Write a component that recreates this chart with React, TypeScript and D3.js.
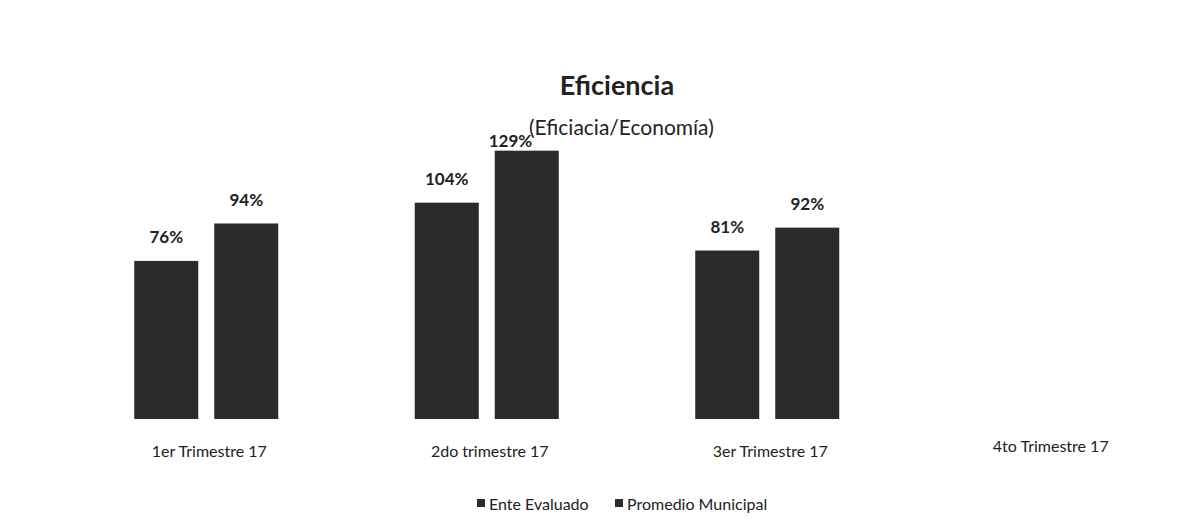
import React from "react";
import * as d3 from "d3";

const categories = ["1er Trimestre 17", "2do trimestre 17", "3er Trimestre 17", "4to Trimestre 17"];
const seriesNames = ["Ente Evaluado", "Promedio Municipal"];
const enteEvaluado: (number | null)[] = [76, 104, 81, null];
const promedioMunicipal: (number | null)[] = [94, 129, 92, null];
const seriesValues = [enteEvaluado, promedioMunicipal];
const seriesColors = ["#2a2a2a", "#2b2b2b"];

const W = 1191;
const H = 529;

export default function App() {
  const x0 = d3.scaleBand<string>().domain(categories).range([66, 1188]).padding(0);
  const groupW = 144;
  const x1 = d3.scaleBand<string>().domain(seriesNames).range([0, groupW]).paddingInner(0.2).paddingOuter(0);
  const y = d3.scaleLinear().domain([0, 140]).range([419, 419 - 140 * 2.08]);
  const font = "Lato, 'Open Sans', sans-serif";

  return (
    <svg width={W} height={H} style={{ position: "absolute", left: 0, top: 0, background: "#fff" }} fontFamily={font}>
      <rect width={W} height={H} fill="#fff" />
      <text x={617} y={84} textAnchor="middle" dominantBaseline="central" fontSize={27} fontWeight="bold" fill="#222">Eficiencia</text>
      <text x={529} y={126} textAnchor="start" dominantBaseline="central" fontSize={21} fill="#222">(Eficiacia/Economía)</text>
      {categories.map((c, ci) => {
        const gx = (x0(c) ?? 0) + (x0.bandwidth() - groupW) / 2;
        return (
          <g key={c}>
            {seriesNames.map((s, si) => {
              const v = seriesValues[si][ci];
              if (v == null) return null;
              const bx = gx + (x1(s) ?? 0);
              const high = v > 120;
              return (
                <g key={s}>
                  <rect x={bx} y={y(v)} width={x1.bandwidth()} height={y(0) - y(v)} fill={seriesColors[si]} />
                  <text
                    x={high ? bx - 6 : bx + x1.bandwidth() / 2}
                    y={high ? y(v) - 10 : y(v) - 24}
                    textAnchor={high ? "start" : "middle"}
                    dominantBaseline="central"
                    fontSize={17}
                    fontWeight="bold"
                    fill="#222"
                  >
                    {v}%
                  </text>
                </g>
              );
            })}
            <text x={(x0(c) ?? 0) + x0.bandwidth() / 2 + 3} y={ci === 3 ? 445 : 450} textAnchor="middle" dominantBaseline="central" fontSize={16} fill="#222">{c}</text>
          </g>
        );
      })}
      <g>
        {seriesNames.map((s, si) => {
          const lx = si === 0 ? 477 : 615;
          return (
            <g key={s}>
              <rect x={lx} y={499} width={8} height={8} fill={seriesColors[si]} />
              <text x={lx + 12} y={503} dominantBaseline="central" fontSize={16} fill="#222">{s}</text>
            </g>
          );
        })}
      </g>
    </svg>
  );
}
